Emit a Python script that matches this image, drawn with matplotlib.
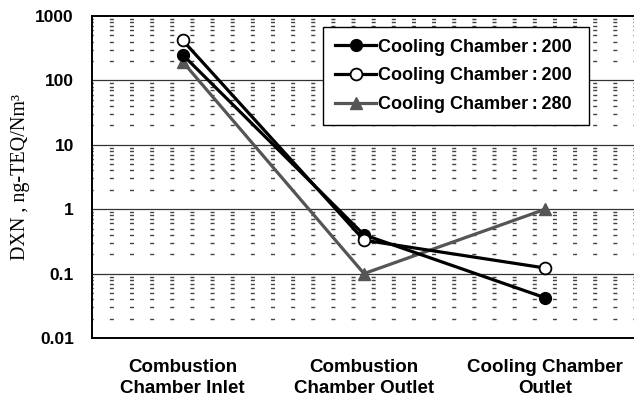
import matplotlib.pyplot as plt
import numpy as np

plt.rcParams["font.family"] = ["Liberation Sans", "DejaVu Sans"]

# sampling points
points = ["Combustion\nChamber Inlet", "Combustion\nChamber Outlet", "Cooling Chamber\nOutlet"]

# DXN, ng-TEQ/Nm3
dxn_a = [250, 0.40, 0.042]   # cooling chamber 200 (filled)
dxn_b = [420, 0.33, 0.122]   # cooling chamber 200 (open)
dxn_c = [195, 0.10, 1.0]     # cooling chamber 280

labels = ["Cooling Chamber\u2009:\u2009200", "Cooling Chamber\u2009:\u2009200", "Cooling Chamber\u2009:\u2009280"]
yticks = [0.01, 0.1, 1, 10, 100, 1000]
ytick_labels = ["0.01", "0.1", "1", "10", "100", "1000"]

fig = plt.figure(figsize=(6.34, 3.96), dpi=100)
ax = fig.add_axes([92 / 634, 58 / 396, 544 / 634, 322 / 396])

x = np.arange(len(points))

ax.set_yscale("log")
ax.set_ylim(0.01, 1000)
ax.set_xlim(-0.5, 2.5)

# grid: solid at decades, short dashes at minor ticks
for d in yticks[1:-1]:
    ax.axhline(d, color="#333333", lw=0.9, zorder=1)
for d in yticks[:-1]:
    for k in range(2, 10):
        ax.axhline(d * k, color="#444444", lw=1.0, ls=(2, (2.9, 11.6)), zorder=1)

la, = ax.plot(x, dxn_a, color="black", lw=2.3, marker="o", ms=8.5, mfc="black", mec="black",
              zorder=4)
lb, = ax.plot(x, dxn_b, color="black", lw=2.3, marker="o", ms=8.5, mfc="white", mec="black",
              mew=1.3, zorder=4)
lc, = ax.plot(x, dxn_c, color="#555555", lw=2.3, marker="^", ms=8.5, mfc="#555555",
              mec="#555555", zorder=3)

ax.set_xticks(x)
ax.set_xticklabels(points, fontsize=13.5, fontweight="bold", linespacing=1.3)
ax.set_yticks(yticks)
ax.set_yticklabels(ytick_labels, fontsize=12.5, fontweight="bold")
ax.minorticks_off()
ax.tick_params(axis="both", length=0)
ax.tick_params(axis="y", pad=13)
ax.tick_params(axis="x", pad=15)

ax.set_ylabel("DXN , ng-TEQ/Nm\u00b3", family="Liberation Serif", fontsize=14.5, labelpad=4)

for s in ["left", "bottom", "top"]:
    ax.spines[s].set_linewidth(1.4)
ax.spines["right"].set_visible(False)

# trailing blank keeps the wide right margin of the original legend box
leg = ax.legend([la, lb, lc], [l + " " for l in labels], loc="upper left",
                bbox_to_anchor=(231 / 544, 1 - 11 / 322), frameon=True,
                fancybox=False, edgecolor="black", framealpha=1,
                prop={"weight": "bold", "size": 13}, handlelength=2.3, handletextpad=0.1,
                borderpad=0.65, labelspacing=0.65, borderaxespad=0)
leg.get_frame().set_linewidth(1.0)
leg.set_zorder(5)

fig.savefig("out.png", dpi=100)
